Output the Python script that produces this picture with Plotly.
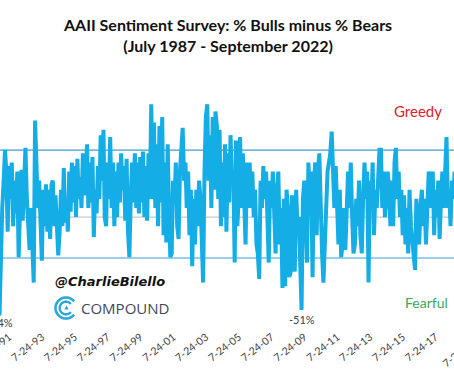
import numpy as np
import pandas as pd
import plotly.graph_objects as go

# ---------------- data (monthly readings, % bulls minus % bears) ----------------
spread_1987_1990 = [25, 35, 20, -15, -10, 5,
                    10, 5, 15, 0, 10, 5, 15, -5, 10, 0, 5, 10,
                    20, 10, 15, 5, 20, 10, 25, 15, 20, -5, 10, 15,
                    0, 10, 15, -5, 15, 20, 10, -25, -35, -54, -10, 5]
spread_1991_1995 = [20, 37, 25, -8, 28, 10, 30, -5, 20, 2, 25, -22,
                    5, 26, -2, 20, 38, 10, -5, -18, 5, -15, -36, 53,
                    30, 5, 20, -10, -24, 15, -5, 18, -8, 15, -12, 18,
                    20, -5, 12, -5, -21, -8, 15, -5, 27, -3, 10, -8,
                    25, 3, 30, 8, 28, 0, 32, 10, 22, 5, 35, 12]
spread_1996_2000 = [20, 40, 5, 30, 8, 33, -11, 15, 2, 28, 10, 45,
                    20, 48, 0, -5, 30, 10, 44, 5, 30, -5, 25, 0,
                    30, 8, 35, 15, 28, -2, 32, -8, -22, 10, 30, 8,
                    35, 5, 30, 2, 33, 8, 36, 0, 28, -2, 35, 10,
                    62, 10, 52, 5, 40, -5, 50, 8, 55, -10, 30, -14]
spread_2001_2005 = [40, 2, -22, -20, 20, 8, 30, -5, -12, 25, 35, 49,
                    20, 30, 5, 25, -10, 15, -27, 10, -15, 15, -5, 20,
                    10, -20, -36, 25, 55, 62, 20, 45, 5, 55, 15, 58,
                    50, 10, 48, -5, 30, 0, 40, -8, 35, 8, 45, 20,
                    25, -25, 42, -5, 10, 44, 5, 35, 0, -15, 30, 5]
spread_2006_2010 = [30, 5, 25, 0, 15, -15, -20, -34, 20, 5, 28, 10,
                    25, 5, -25, 20, 5, 25, -5, -20, 15, 25, -15, 5,
                    -39, 10, -38, 15, 5, -33, -30, 12, -10, -30, 15, -5,
                    0, -40, -51, 10, 20, 0, -25, 30, 10, 25, -33, 20,
                    30, -10, 25, 35, -5, -20, -36, -15, 10, 25, 30, 35]
spread_2011_2015 = [47, 20, 5, 28, 0, -15, 15, -22, -15, 5, -18, 10,
                    25, 5, 30, 0, -20, -15, 10, -5, 20, -10, -20, 10,
                    30, 10, 25, -36, 20, 5, 30, -10, 15, 5, 30, 37,
                    37, 5, 25, 0, 10, 25, 15, -5, 20, -5, 30, 38,
                    10, 25, 0, 15, -10, 12, -15, 5, -20, 15, -5, -12]
spread_2016_2022 = [-20, -29, 10, 0, -15, 5, 15, -5, 10, -15, 10, 25,
                    20, 5, 25, -10, 15, 0, 20, -12, 10, 25, 5, 30,
                    44, 5, 15, -5, 20, 10, 25, 15, 20, -15, -5, -20,
                    10, -5, 15, 20, -10, 0, 15, -20, 0, 10, 20, 15,
                    10, 5, -30, -25, -20, -15, -5, 10, 0, -10, 15, 20,
                    15, 30, 20, 25, 15, 10, 5, 15, -5, 10, 0, -10,
                    -15, -25, -10, -35, -35, -30, -25, -10, -43]

greedy_level = 36.8    # mean + 2 std
fearful_level = -22.5  # mean - 2 std
zero_level = 0

tick_dates = ["1991-07-24", "1993-07-24", "1995-07-24", "1997-07-24", "1999-07-24",
              "2001-07-24", "2003-07-24", "2005-07-24", "2007-07-24", "2009-07-24",
              "2011-07-24", "2013-07-24", "2015-07-24", "2017-07-24"]
tick_labels = ["7-24-91", "7-24-93", "7-24-95", "7-24-97", "7-24-99", "7-24-01",
               "7-24-03", "7-24-05", "7-24-07", "7-24-09", "7-24-11", "7-24-13",
               "7-24-15", "7-24-17"]
next_tick_label = "7-24-19"

low_label_date = "2009-03-15"
low_label_value = -51

# ---------------- figure ----------------
values = (spread_1987_1990 + spread_1991_1995 + spread_1996_2000 + spread_2001_2005
          + spread_2006_2010 + spread_2011_2015 + spread_2016_2022)
dates = pd.date_range("1987-07-01", periods=len(values), freq="MS") + pd.Timedelta(days=14)

W, H = 454, 379
ML, MR, MT, MB = 0, 0, 60, 56
PH = H - MT - MB
ANGLE = -38

BLUE = "#14ade6"
BAND = "#3a9fcf"
TXT = "#404040"

fig = go.Figure()
for lvl, col in [(zero_level, "#c9c9c9"), (greedy_level, BAND), (fearful_level, BAND)]:
    fig.add_trace(go.Scatter(x=[dates[0], dates[-1]], y=[lvl, lvl], mode="lines",
                             line=dict(color=col, width=1.2), hoverinfo="skip",
                             showlegend=False))
fig.add_trace(go.Scatter(x=dates, y=values, mode="lines",
                         line=dict(color=BLUE, width=4), showlegend=False))


def px2paper(px, py):
    return px / W, (H - MB - py) / PH


def note(px, py, text, font, **kw):
    x, y = px2paper(px, py)
    d = dict(x=x, y=y, xref="paper", yref="paper", showarrow=False, text=text,
             font=font, xanchor="center", yanchor="middle")
    d.update(kw)
    return d


annotations = [
    note(227, 35, "<b>AAII Sentiment Survey: % Bulls minus % Bears</b><br><b>(July 1987 - September 2022)</b>",
         dict(family="Lato", size=16, color="#111111")),
    note(418, 111, "Greedy", dict(family="Lato", size=15, color="#e0202a")),
    note(426, 302, "Fearful", dict(family="Lato", size=14, color="#3aa65a")),
    note(0, 322, "-54%", dict(family="Lato", size=11, color=TXT)),
    note(110, 281, "<b><i>@CharlieBilello</i></b>", dict(family="DejaVu Sans", size=13, color="#111111")),
    note(125, 308, "COMPOUND", dict(family="Open Sans", size=15, color="#3e4a5e")),
    note(459, 353, next_tick_label, dict(family="Lato", size=10.5, color=TXT), textangle=ANGLE),
    dict(x=low_label_date, y=low_label_value, xref="x", yref="y", showarrow=False,
         text="-51%", xanchor="center", yanchor="top", yshift=-1,
         font=dict(family="Lato", size=11, color=TXT)),
]

# logo: two nested arcs and a small triangle
shapes = []
for r, w in [(10.5, 2.6), (6.3, 2.4)]:
    ang = np.linspace(np.radians(40), np.radians(320), 40)
    pts = [px2paper(66 + r * np.cos(a), 308 - r * np.sin(a)) for a in ang]
    path = "M " + " L ".join(f"{x:.5f},{y:.5f}" for x, y in pts)
    shapes.append(dict(type="path", xref="paper", yref="paper", path=path,
                       line=dict(color="#2ba7dd", width=w)))
t1 = px2paper(66.5, 305.5)
t2 = px2paper(64.3, 309.5)
t3 = px2paper(68.7, 309.5)
shapes.append(dict(type="path", xref="paper", yref="paper",
                   path=f"M {t1[0]:.5f},{t1[1]:.5f} L {t2[0]:.5f},{t2[1]:.5f} L {t3[0]:.5f},{t3[1]:.5f} Z",
                   fillcolor="#2ba7dd", line=dict(width=0)))

y_top = 86.3
y_bottom = y_top - PH / 1.82

fig.update_layout(
    width=W, height=H,
    margin=dict(l=ML, r=MR, t=MT, b=MB, autoexpand=False),
    paper_bgcolor="white", plot_bgcolor="white",
    annotations=annotations, shapes=shapes,
    xaxis=dict(type="date", range=["1990-10-26", "2018-07-01"], showgrid=False,
               zeroline=False, showline=False, ticks="", automargin=False,
               tickmode="array", tickvals=tick_dates, ticktext=tick_labels,
               ticklabelshift=-3, ticklabelstandoff=5, ticklabeloverflow="allow",
               tickangle=ANGLE, tickfont=dict(family="Lato", size=10.5, color=TXT)),
    yaxis=dict(range=[y_bottom, y_top], showgrid=False, zeroline=False, automargin=False,
               showticklabels=False, showline=False, ticks=""),
)

fig.write_html("out.html", config={"displayModeBar": False},
               post_script="document.body.style.margin='0px';document.body.style.overflow='hidden';")
